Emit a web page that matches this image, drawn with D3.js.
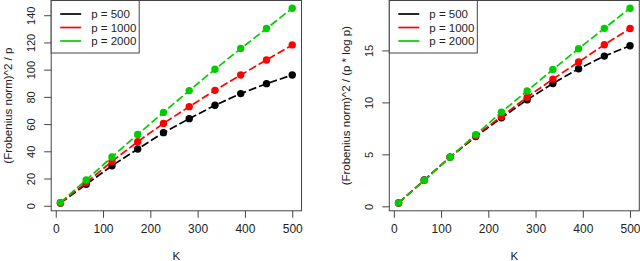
<!DOCTYPE html>
<html lang="en">
<head>
<meta charset="utf-8">
<title>Frobenius norm vs K</title>
<script src="https://cdn.jsdelivr.net/npm/d3@7"></script>
<style>
  body { margin: 0; background: #fff; }
  svg text { font-family: "Liberation Sans", Arial, Helvetica, sans-serif; fill: #222; }
</style>
</head>
<body>
<div id="chart"></div>
<script>
// data
var K = [10, 64.4, 118.9, 173.3, 227.8, 282.2, 336.7, 391.1, 445.6, 500];
var labels = ["p = 500", "p = 1000", "p = 2000"];
var colors = ["#000000", "#ff0000", "#00cd00"];

// left panel: (Frobenius norm)^2 / p
var left500  = [2.0, 15.7, 29.4, 41.7, 53.7, 64.0, 73.8, 82.4, 89.7, 96.1];
var left1000 = [2.1, 16.9, 32.6, 47.1, 60.5, 72.8, 84.8, 96.1, 107.1, 118.2];
var left2000 = [2.5, 18.9, 35.8, 52.4, 68.6, 84.6, 100.3, 115.5, 130.2, 145.1];
var leftTicks = [0, 20, 40, 60, 80, 100, 120, 140];

// right panel: (Frobenius norm)^2 / (p * log p)
var right500  = [0.32, 2.53, 4.73, 6.71, 8.51, 10.25, 11.82, 13.23, 14.45, 15.45];
var right1000 = [0.32, 2.50, 4.73, 6.80, 8.64, 10.50, 12.24, 13.88, 15.55, 17.10];
var right2000 = [0.33, 2.50, 4.72, 6.90, 9.06, 11.10, 13.17, 15.16, 17.12, 19.05];
var rightTicks = [0, 5, 10, 15];

var xTicks = [0, 100, 200, 300, 400, 500];

var w = 640, h = 261;
var svg = d3.select("#chart").append("svg")
    .attr("width", w)
    .attr("height", h);

// R style: pad the data range by 4% on each side
function padded(ext) {
    var d = (ext[1] - ext[0]) * 0.04;
    return [ext[0] - d, ext[1] + d];
}

function panel(box, series, yTicks, ytitle) {
    var g = svg.append("g");
    var all = d3.merge(series);
    var x = d3.scaleLinear().domain(padded(d3.extent(K))).range([box.x0, box.x1]);
    var y = d3.scaleLinear().domain(padded(d3.extent(all))).range([box.y1, box.y0]);

    // axes, R-ish: ticks outward, no domain line (the box draws it)
    var xAxis = d3.axisBottom(x).tickValues(xTicks).tickSize(7).tickPadding(7).tickFormat(d3.format("d"));
    var gx = g.append("g")
        .attr("transform", "translate(0," + box.y1 + ")")
        .call(xAxis);
    gx.select(".domain").remove();
    gx.selectAll("line").attr("stroke", "#444");
    gx.selectAll("text").attr("font-size", 12).style("font-family", "Liberation Sans, Arial, sans-serif").style("fill", "#222");

    var yAxis = d3.axisLeft(y).tickValues(yTicks).tickSize(7).tickFormat(d3.format("d"));
    var gy = g.append("g")
        .attr("transform", "translate(" + box.x0 + ",0)")
        .call(yAxis);
    gy.select(".domain").remove();
    gy.selectAll("line").attr("stroke", "#444");
    // rotated tick labels, as R draws them
    gy.selectAll(".tick text")
        .attr("font-size", 11)
        .style("font-family", "Liberation Sans, Arial, sans-serif")
        .style("fill", "#222")
        .attr("x", null).attr("dy", null).attr("y", 0)
        .attr("text-anchor", "middle")
        .attr("transform", "translate(-16,0) rotate(-90)");

    // lines + points
    series.forEach(function(vals, i) {
        var pts = K.map(function(k, j) { return [k, vals[j]]; });
        var line = d3.line().x(function(d) { return x(d[0]); }).y(function(d) { return y(d[1]); });
        g.append("path")
            .attr("d", line(pts))
            .attr("fill", "none")
            .attr("stroke", colors[i])
            .attr("stroke-width", 1.7)
            .attr("stroke-dasharray", "8,3");
        g.selectAll(null).data(pts).enter().append("circle")
            .attr("cx", function(d) { return x(d[0]); })
            .attr("cy", function(d) { return y(d[1]); })
            .attr("r", 3.7)
            .attr("fill", colors[i]);
    });

    // box
    g.append("rect")
        .attr("x", box.x0).attr("y", box.y0)
        .attr("width", box.x1 - box.x0).attr("height", box.y1 - box.y0)
        .attr("fill", "none").attr("stroke", "#444").attr("stroke-width", 1);

    // legend
    var lg = g.append("g").attr("transform", "translate(" + box.x0 + "," + box.y0 + ")");
    lg.append("rect")
        .attr("x", 0).attr("y", 0).attr("width", 88).attr("height", 52.5)
        .attr("fill", "#fff").attr("stroke", "#444").attr("stroke-width", 1);
    labels.forEach(function(t, i) {
        var yy = 13.5 + i * 13.5;
        lg.append("line")
            .attr("x1", 9).attr("x2", 30).attr("y1", yy).attr("y2", yy)
            .attr("stroke", colors[i]).attr("stroke-width", 1.7);
        lg.append("text")
            .attr("x", 40).attr("y", yy + 4)
            .attr("font-size", 11.5)
            .style("fill", "#222")
            .text(t);
    });

    // axis titles
    g.append("text")
        .attr("x", (box.x0 + box.x1) / 2).attr("y", 260)
        .attr("text-anchor", "middle")
        .attr("font-size", 11.5)
        .style("fill", "#222")
        .text("K");
    g.append("text")
        .attr("transform", "translate(" + (box.x0 - 39.5) + "," + ((box.y0 + box.y1) / 2) + ") rotate(-90)")
        .attr("text-anchor", "middle")
        .attr("font-size", 11.5)
        .style("fill", "#222")
        .text(ytitle);
}

panel({x0: 51.2, x1: 301.5, y0: 0.5, y1: 210.8}, [left500, left1000, left2000], leftTicks, "(Frobenius norm)^2 / p");
panel({x0: 389.3, x1: 639.3, y0: 0.5, y1: 210.8}, [right500, right1000, right2000], rightTicks, "(Frobenius norm)^2 / (p * log p)");
</script>
</body>
</html>
